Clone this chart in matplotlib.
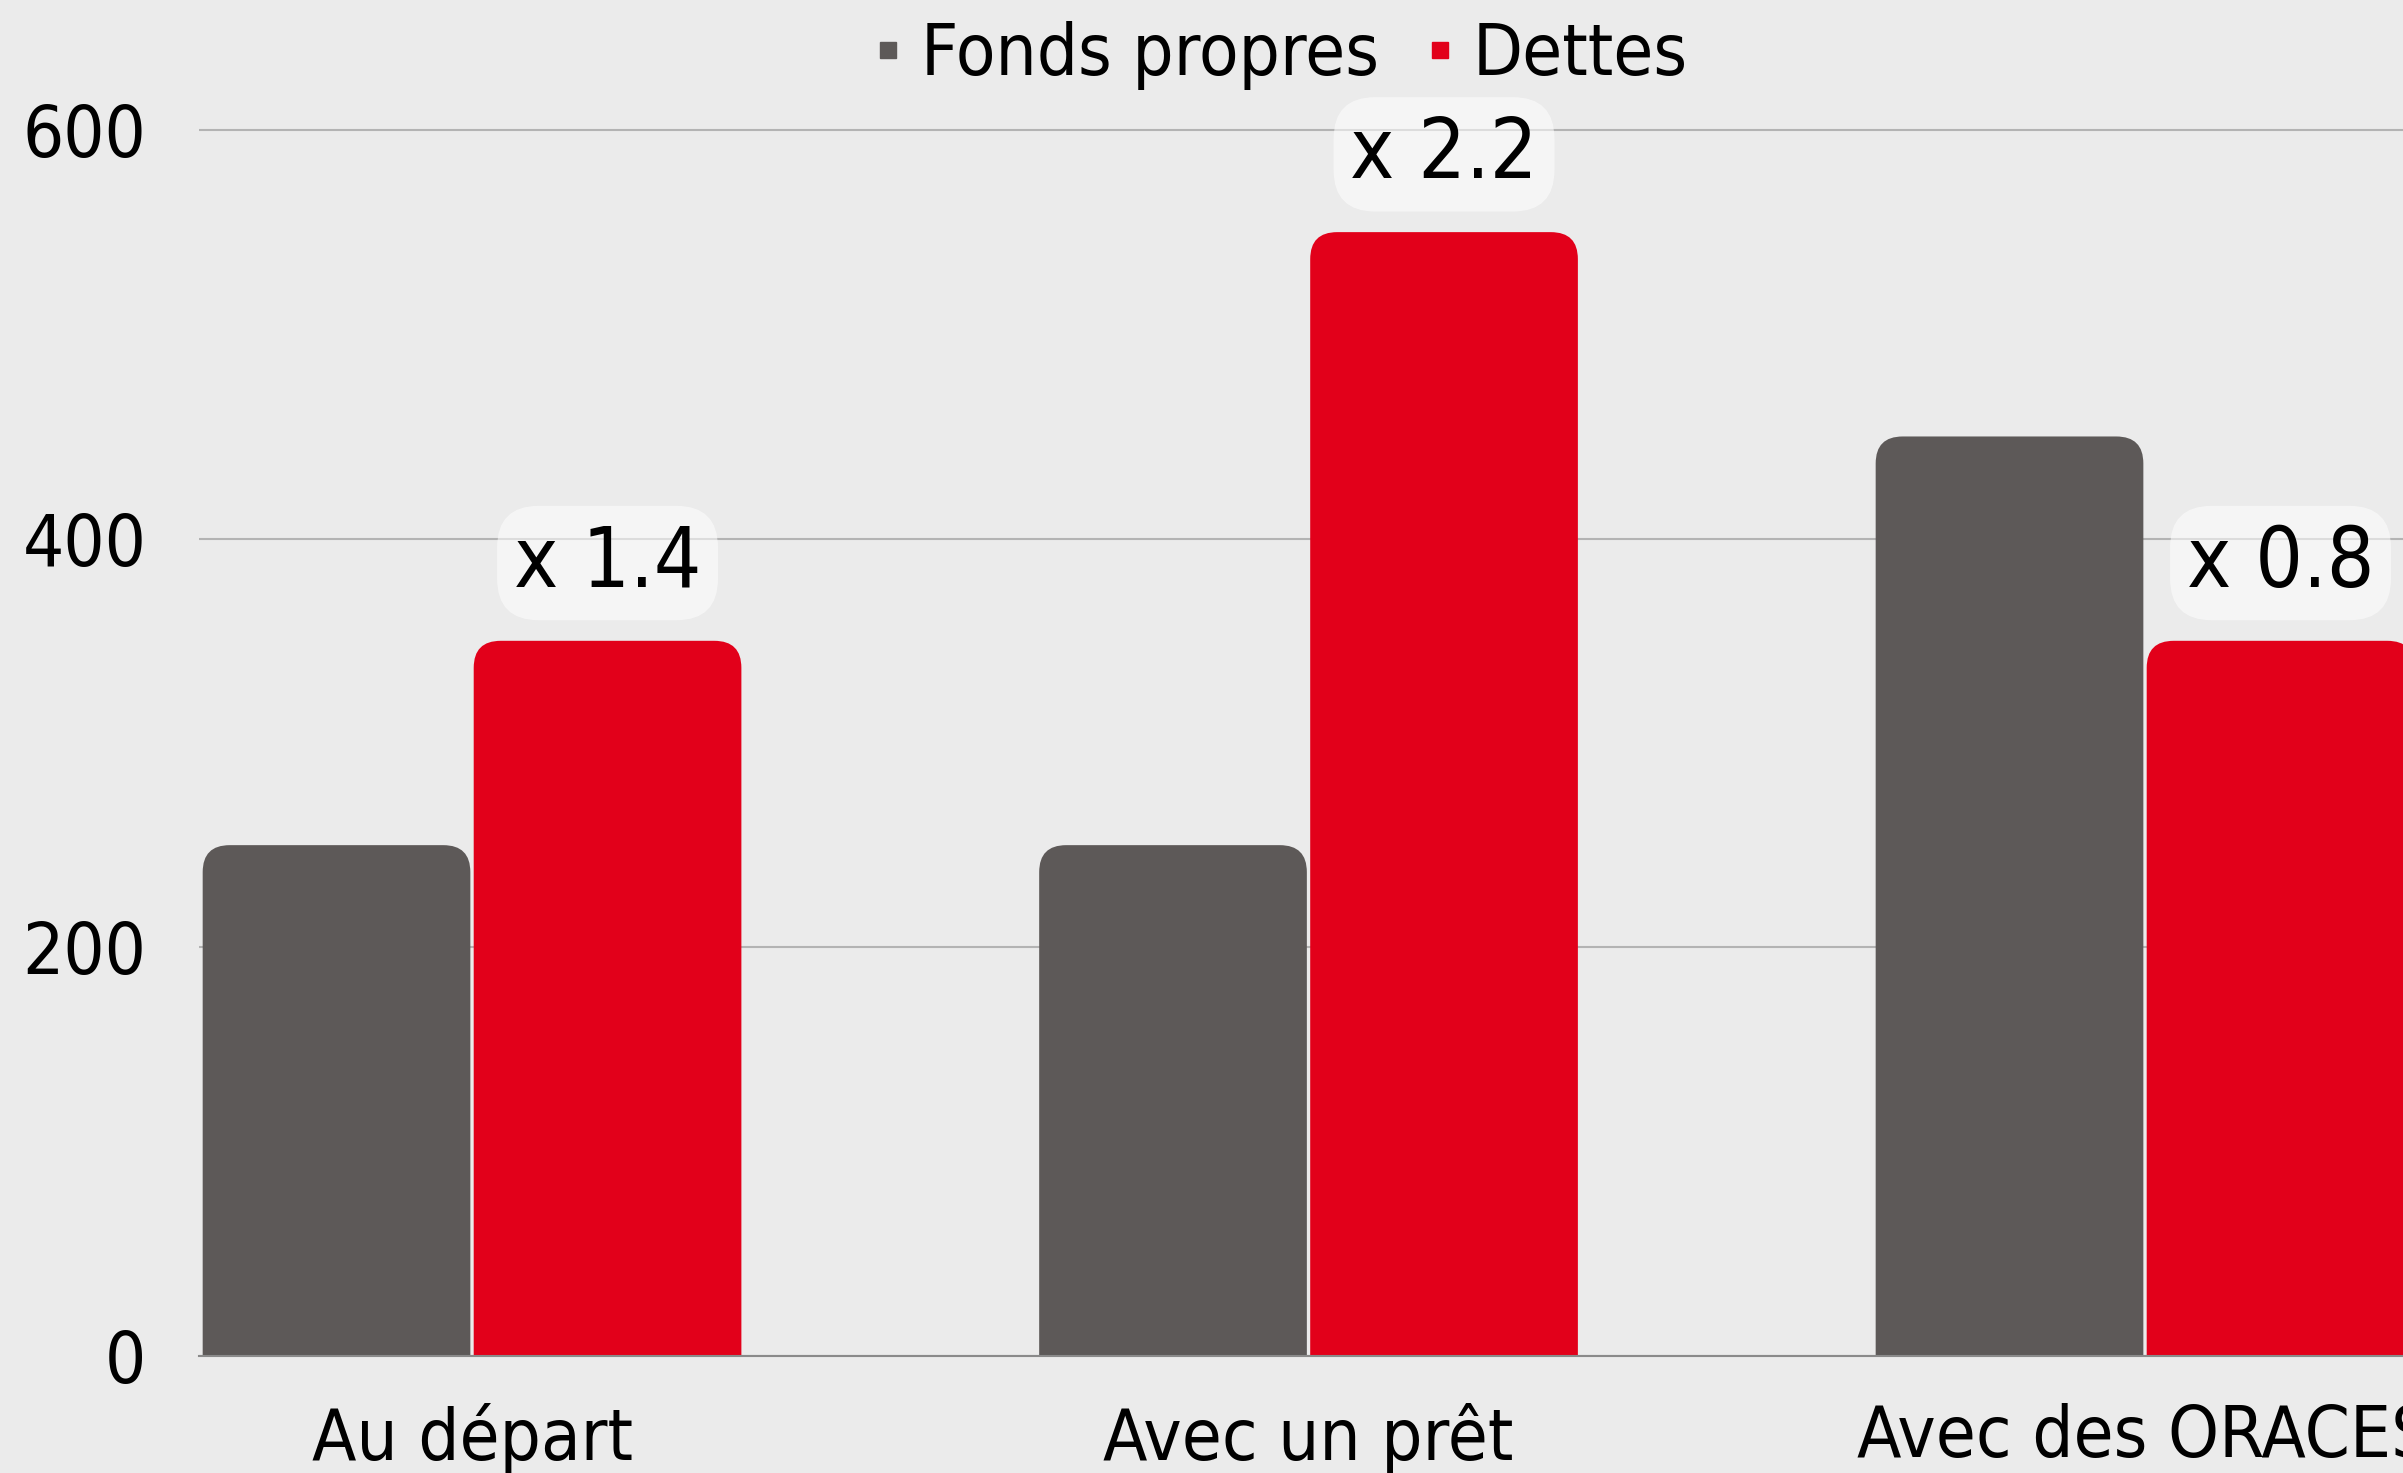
import matplotlib
matplotlib.use("Agg")
import matplotlib.pyplot as plt
from matplotlib import font_manager
from matplotlib.patches import FancyBboxPatch
from matplotlib.lines import Line2D
import numpy as np

categories = ["Au départ", "Avec un prêt", "Avec des ORACES"]
fonds_propres = [250, 250, 450]
dettes = [350, 550, 350]
yticks = [0, 200, 400, 600]

GRAY = "#5d5958"
RED = "#e2001a"
BG = "#ebebeb"

# pick a narrow font if one is installed
names = {f.name for f in font_manager.fontManager.ttflist}
stretches = {(f.name, f.stretch) for f in font_manager.fontManager.ttflist}
if "Liberation Sans Narrow" in names:
    FONT = dict(family="Liberation Sans Narrow")
elif ("DejaVu Sans", "condensed") in stretches or ("DejaVu Sans", 600) in stretches:
    FONT = dict(family="DejaVu Sans", stretch="condensed")
else:
    FONT = dict(family="DejaVu Sans")
plt.rcParams["font.family"] = FONT["family"]
if "stretch" in FONT:
    plt.rcParams["font.stretch"] = FONT["stretch"]

W, H = 2403, 1473
fig = plt.figure(figsize=(W / 100, H / 100), dpi=100, facecolor=BG)
ax = fig.add_axes([199 / W, (H - 1356) / H, 1 - 199 / W, 1356 / H])
ax.set_facecolor(BG)

x = np.arange(len(categories))
bw = 0.324
ax.set_xlim(-0.3264, 2.3084)
ax.set_ylim(0, 663.6)

g_bars = ax.bar(x - bw / 2, fonds_propres, width=bw - 0.004, color=GRAY, zorder=2)
r_bars = ax.bar(x + bw / 2, dettes, width=bw - 0.004, color=RED, zorder=2)

# replace plain bars with rounded-top ones
ax_w = ax.get_position().width * W
ax_h = ax.get_position().height * H
x_per_px = (ax.get_xlim()[1] - ax.get_xlim()[0]) / ax_w
y_per_px = (ax.get_ylim()[1] - ax.get_ylim()[0]) / ax_h
rad = 27 * x_per_px
asp = y_per_px / x_per_px
for b in list(g_bars) + list(r_bars):
    bx, by = b.get_xy()
    p = FancyBboxPatch((bx, by - 40), b.get_width(), b.get_height() + 40,
                       boxstyle=f"round,pad=0,rounding_size={rad}",
                       mutation_aspect=asp, facecolor=b.get_facecolor(),
                       edgecolor="none", zorder=2)
    b.set_visible(False)
    ax.add_patch(p)

# ratio labels above the debt bars
for i in range(len(categories)):
    ratio = dettes[i] / fonds_propres[i]
    ax.annotate(f"x {ratio:.1f}", xy=(x[i] + bw / 2, dettes[i]),
                xytext=(0, 56), textcoords="offset points",
                ha="center", va="center", fontsize=60, color="black", zorder=4,
                bbox=dict(boxstyle="round,pad=0.2,rounding_size=0.5",
                          facecolor="white", alpha=0.55, edgecolor="none"))

ax.set_yticks(yticks)
ax.set_xticks(x)
ax.set_xticklabels(categories)
ax.tick_params(axis="both", length=0, labelsize=52, colors="black")
ax.tick_params(axis="y", pad=38)
ax.tick_params(axis="x", pad=34)
ax.yaxis.grid(True, color="#b3b3b3", linewidth=1.5, zorder=0)
ax.set_axisbelow(True)
for s in ["top", "right", "left"]:
    ax.spines[s].set_visible(False)
ax.spines["bottom"].set_color("#8a8a8a")
ax.spines["bottom"].set_linewidth(1.5)
ax.spines["bottom"].set_zorder(3)

handles = [Line2D([], [], marker="s", linestyle="none", color=GRAY, markersize=12),
           Line2D([], [], marker="s", linestyle="none", color=RED, markersize=12)]
fig.legend(handles, ["Fonds propres", "Dettes"], loc="center",
           bbox_to_anchor=(1277 / W, 1 - 56 / H), ncol=2, frameon=False,
           fontsize=52, handletextpad=0.15, columnspacing=0.55, handlelength=0.6)

fig.savefig("out.png", dpi=100, facecolor=BG)
